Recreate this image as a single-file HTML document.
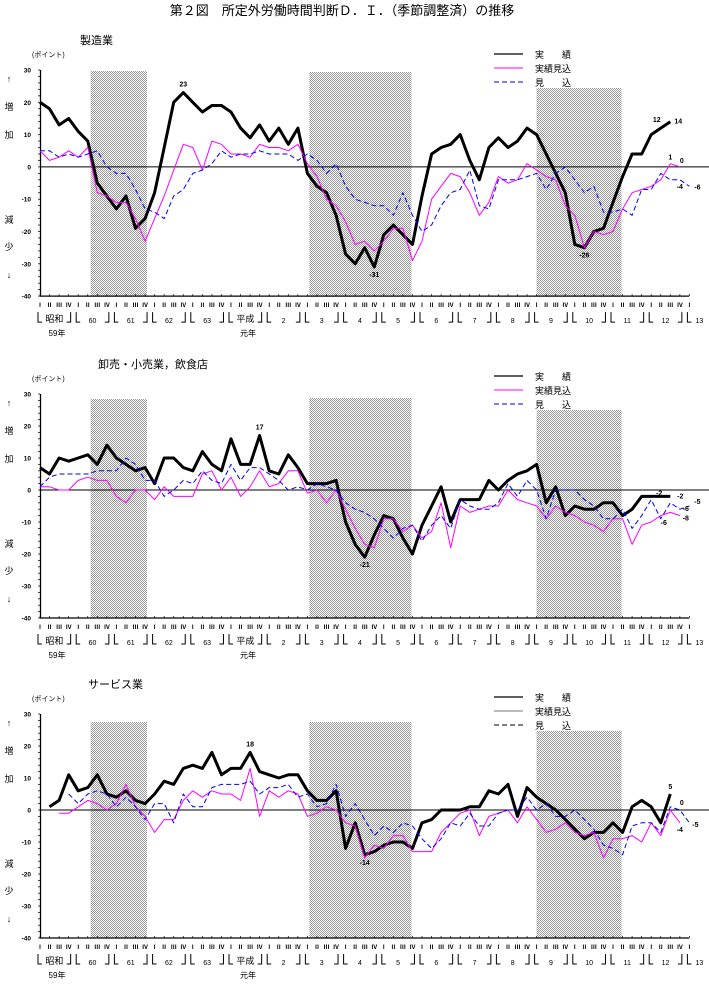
<!DOCTYPE html>
<html><head><meta charset="utf-8"><style>
body{margin:0;background:#fff}
svg{display:block;font-family:"Liberation Sans","Noto Sans CJK JP",sans-serif}
</style></head><body>
<svg id="c" width="709" height="987" viewBox="0 0 709 987" xmlns="http://www.w3.org/2000/svg">
<defs><pattern id="dots" width="2" height="2" patternUnits="userSpaceOnUse"><rect width="2" height="2" fill="#fff"/><rect width="1" height="1" fill="#999"/><rect x="1" y="1" width="1" height="1" fill="#999"/></pattern></defs>
<text x="342" y="15" font-size="13" text-anchor="middle">第２図　所定外労働時間判断Ｄ．Ｉ．（季節調整済）の推移</text>
</svg>
<script>
// ---- data ----
const quarterLabels = ["Ⅰ","Ⅱ","Ⅲ","Ⅳ"];
const yearLabels = ["昭和","60","61","62","63","平成","2","3","4","5","6","7","8","9","10","11","12","13"];
const yTicks = [30,20,10,0,-10,-20,-30,-40];
const panelTitles = ["製造業","卸売・小売業，飲食店","サービス業"];
const recessionStart = [5.3, 28.2, 52];
const recessionEnd = [11.2, 38.9, 60.9];
const mfgActual = [20,18,13,15,11,8,-5,-9,-13,-9,-19,-16,-8,6,20,23,20,17,19,19,17,12,9,13,8,12,7,12,-2,-6,-8,-15,-27,-30,-25,-31,-21,-18,-21,-24,-9,4,6,7,10,2,-4,6,9,6,8,12,10,4,-2,-8,-24,-25,-20,-19,-11,-3,4,4,10,12,14];
const mfgEstimate = [5,2,3,5,3,6,-8,-9,-11,-11,-16,-23,-16,-9,-1,7,6,-1,8,7,4,4,3,7,6,6,5,7,1,-3,-10,-12,-17,-24,-23,-26,-23,-19,-19,-29,-23,-10,-6,-2,-3,-8,-15,-11,-3,-5,-4,1,-1,-3,-4,-12,-15,-25,-20,-21,-20,-13,-8,-7,-6,-4,1,0];
const mfgForecast = [5,5,3,4,3,4,5,0,-2,-2,-7,-13,-14,-16,-9,-7,-2,-1,1,5,3,4,4,5,4,4,4,2,4,2,-2,1,-6,-10,-11,-12,-12,-15,-8,-15,-20,-18,-12,-8,-7,-1,-12,-13,-4,-4,-4,-3,-2,-7,-2,0,-4,-8,-6,-14,-14,-13,-15,-7,-7,-2,-4,-4,-6];
const retActual = [7,5,10,9,10,11,8,14,10,8,6,7,2,10,10,7,6,12,8,6,16,8,8,17,6,5,11,7,2,2,2,3,-10,-17,-21,-14,-8,-9,-15,-20,-11,-5,1,-10,-3,-3,-3,3,0,3,5,6,8,-4,1,-8,-5,-6,-6,-4,-4,-8,-6,-2,-2,-2,-2];
const retEstimate = [1,1,0,0,3,4,3,3,-2,-4,0,0,-3,1,-2,-2,-2,5,6,0,4,-2,1,6,1,2,6,6,-1,0,-4,0,-6,-12,-17,-18,-9,-9,-13,-11,-15,-13,-4,-18,-5,-7,-6,-5,-5,0,-3,-4,-5,-9,-5,-7,-8,-10,-11,-13,-9,-9,-17,-11,-10,-8,-7,-8];
const retForecast = [1,4,5,5,5,5,6,6,6,10,8,3,3,-2,0,3,2,6,3,2,8,3,7,7,5,3,0,1,0,2,1,0,-4,-6,-7,-9,-12,-15,-12,-11,-16,-11,-8,-12,-3,-5,-6,-6,-4,2,-2,3,0,-9,0,0,0,-3,-5,-9,-9,-6,-12,-8,-3,-9,-4,-6,-5];
const svcActual = [null,1,3,11,6,7,11,5,4,6,3,2,5,9,8,13,14,13,18,11,13,13,18,12,11,10,11,11,6,3,3,6,-12,-4,-14,-13,-11,-10,-10,-12,-4,-3,0,0,0,1,1,6,5,8,-2,7,4,2,0,-3,-6,-9,-7,-7,-4,-7,1,3,1,-4,5];
const svcEstimate = [null,null,-1,-1,1,3,2,0,2,8,1,-2,-7,-3,-3,3,6,4,6,5,5,3,13,-2,6,4,6,5,-2,-1,1,0,-4,-5,-15,-11,-12,-8,-8,-13,-13,-13,-7,-4,-1,0,-8,-2,-1,0,-4,1,-3,-7,-6,-4,-7,-8,-7,-15,-9,-9,-8,-10,-4,-8,0,-4];
const svcForecast = [null,null,null,5,2,5,6,5,1,4,1,-3,2,2,-4,5,1,1,7,8,8,8,9,5,7,7,8,4,5,1,2,8,-2,2,-3,-8,-5,-7,-4,-5,-9,-12,-9,-4,-5,-1,-5,-5,-1,0,0,4,0,2,-2,-2,0,-3,-6,-11,-12,-14,-5,-4,-4,-7,1,0,-4];
// [series index, quarter index, text, dx, dy]
const mfgNotes = [[0,15,"23",0,-6],[0,35,"-31",0,10],[0,57,"-26",0,10],[0,65,"12",-4,-6],[0,66,"14",8,2],[1,66,"1",0,-4],[1,67,"0",2,-4],[2,67,"-4",0,9],[2,68,"-6",8,3]];
const retNotes = [[0,23,"17",0,-6],[0,34,"-21",0,10],[0,64,"-2",8,-1],[0,66,"-2",10,2],[2,65,"-6",3,6],[2,67,"-6",6,2],[1,67,"-8",6,5],[2,68,"-5",8,-2]];
const svcNotes = [[0,22,"18",0,-6],[0,34,"-14",0,10],[0,66,"5",0,-5],[2,67,"0",2,-5],[1,67,"-4",0,9],[2,68,"-5",6,4]];

const panelTop = [70,394,714];
const panelUnit = [3.23,3.2,3.2];
const shadeTop = [[71,72,88],[399,398,410],[722,722,731]];
const legendY = [54,376,697];
const seriesByPanel = [[mfgActual,mfgEstimate,mfgForecast],[retActual,retEstimate,retForecast],[svcActual,svcEstimate,svcForecast]];
const notesByPanel = [mfgNotes,retNotes,svcNotes];
const panelNames = ["manufacturing","retail","services"];

const svg = document.getElementById('c');
const NS = "http://www.w3.org/2000/svg";
function mk(tag, attrs, parent){const e=document.createElementNS(NS,tag);for(const k in attrs)e.setAttribute(k,attrs[k]);(parent||svg).appendChild(e);return e;}
function xq(i){return 40+9.55*i;}

for(let p=0;p<3;p++){
  const top=panelTop[p], u=panelUnit[p];
  const yv=v=>top+(30-v)*u;
  const bottom=yv(-40), zero=yv(0);
  const g=mk('g',{});
  
  
  for(let s=0;s<3;s++){
    const r=mk('rect',{x:xq(recessionStart[s]),y:shadeTop[p][s],width:xq(recessionEnd[s])-xq(recessionStart[s]),height:bottom-shadeTop[p][s],fill:'url(#dots)'},g);
    
    
  }
  const t=mk('text',{x:p===2?88:(p===1?98:80),y:top-26,'font-size':11},g); t.textContent=panelTitles[p];
  
  
  const un=mk('text',{x:32,y:top-13,'font-size':7},g); un.textContent='(ポイント)';
  
  
  const side=[["↑",12],["増",40],["加",68],["減",153],["少",180],["↓",208]];
  side.forEach(([c,dy])=>{const s=mk('text',{x:9,y:top+dy,'font-size':9,'text-anchor':'middle'},g);s.textContent=c;
    
    });
  const ax=mk('line',{x1:40.5,y1:top,x2:40.5,y2:bottom,stroke:'#000','stroke-width':1.3},g);
  
  
  for(let v=30;v>=-40;v-=2){mk('line',{x1:38,y1:yv(v),x2:40,y2:yv(v),stroke:'#000','stroke-width':0.7},g);}
  yTicks.forEach(v=>{const tl=mk('text',{x:31,y:yv(v)+2.5,'font-size':6.5,'text-anchor':'end','font-weight':'bold'},g);tl.textContent=v;
    
    });
  const xa=mk('line',{x1:40,y1:bottom,x2:689,y2:bottom,stroke:'#000','stroke-width':1.3},g);
  
  
  const zl=mk('line',{x1:40,y1:zero,x2:709,y2:zero,stroke:'#000','stroke-width':1},g);
  
  
  for(let i=0;i<=68;i++){
    mk('line',{x1:xq(i),y1:bottom,x2:xq(i),y2:bottom-2,stroke:'#000','stroke-width':0.7},g);
    const q=mk('text',{x:xq(i),y:bottom+11,'font-size':6,'text-anchor':'middle','font-weight':'bold'},g);q.textContent=quarterLabels[i%4];
    
    
  }
  for(let k=0;k<yearLabels.length;k++){
    const a=xq(4*k)-2, b=xq(4*k+3)+2, yb=bottom+16, ye=bottom+26;
    mk('path',{d:`M${a} ${yb}V${ye}H${a+4}`,fill:'none',stroke:'#000','stroke-width':1},g);
    if(k<17) mk('path',{d:`M${b} ${yb}V${ye}H${b-4}`,fill:'none',stroke:'#000','stroke-width':1},g);
    const cx = k<17 ? (a+b)/2 : a+12;
    const yl=mk('text',{x:cx,y:ye+(k===0||k===5?0:1),'font-size':k===0||k===5?9:7,'text-anchor':'middle'},g);yl.textContent=yearLabels[k];
    
    
  }
  const s1=mk('text',{x:57,y:bottom+40,'font-size':8,'text-anchor':'middle'},g);s1.textContent='59年';
  
  
  const s2=mk('text',{x:248,y:bottom+40,'font-size':8,'text-anchor':'middle'},g);s2.textContent='元年';
  
  
  const styles=[{stroke:'#000','stroke-width':3},{stroke:'#ff00ff','stroke-width':1},{stroke:'#0000ff','stroke-width':1,'stroke-dasharray':'5,3'}];
  const legStyles=JSON.parse(JSON.stringify(styles));
  if(p===2){legStyles[1].stroke='#777';legStyles[2].stroke='#000';}
  const snames=['actual-line','estimate-line','forecast-line'];
  seriesByPanel[p].forEach((arr,si)=>{
    let d='';let started=false;
    arr.forEach((v,i)=>{if(v===null)return;d+=(started?'L':'M')+xq(i).toFixed(1)+' '+yv(v).toFixed(1);started=true;});
    const pl=mk('path',Object.assign({d:d,fill:'none','stroke-linejoin':'round'},styles[si]),g);
    
    
  });
  notesByPanel[p].forEach(([si,i,txt,dx,dy])=>{
    const arr=seriesByPanel[p][si];
    const n=mk('text',{x:xq(i)+dx,y:yv(arr[i])+dy,'font-size':7,'text-anchor':'middle','font-weight':'bold'},g);n.textContent=txt;
    
    
  });
  const ly=legendY[p];
  const lnames=['実　　績','実績見込','見　　込'];
  for(let k=0;k<3;k++){
    const ln=mk('line',Object.assign({x1:494,y1:ly+14*k,x2:523,y2:ly+14*k},legStyles[k],{'stroke-width':k===0?1.3:1}),g);
    
    
    const lt=mk('text',{x:535,y:ly+14*k+4,'font-size':9},g);lt.textContent=lnames[k];
    
    
  }
}
</script>
</body></html>
